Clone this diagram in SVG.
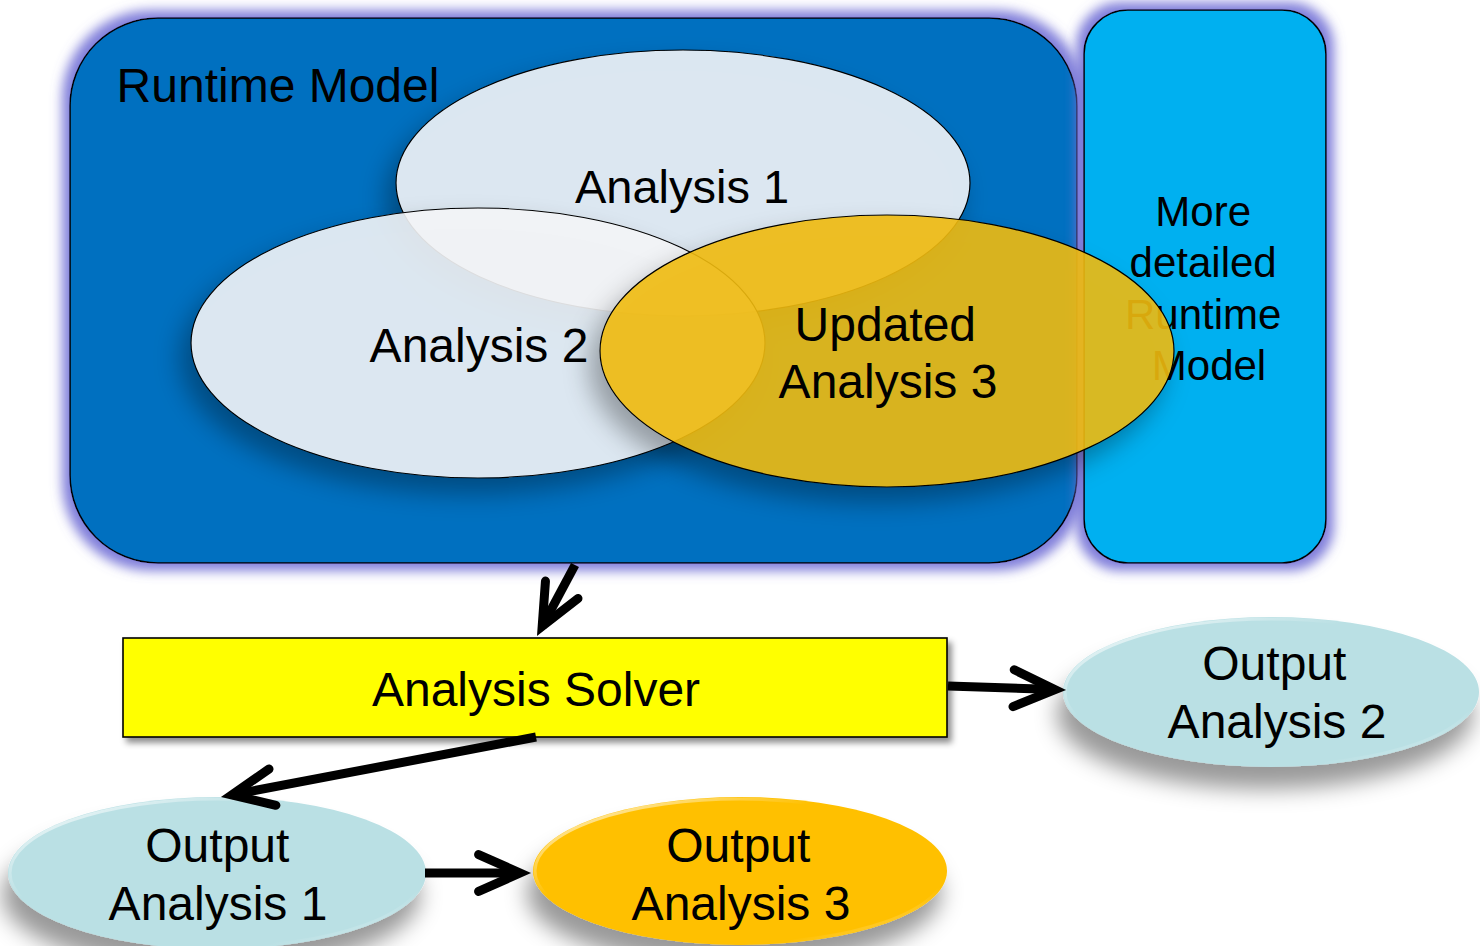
<svg xmlns="http://www.w3.org/2000/svg" width="1480" height="946" viewBox="0 0 1480 946">
  <defs>
    <style>
      text { font-family: "Liberation Sans", Arial, sans-serif; fill: #000; text-anchor: middle; }
      .panel { stroke: #000; stroke-width: 1.6; }
      .inner { stroke: #000; stroke-width: 1.2; }
      .conn { fill: none; stroke: #000; stroke-width: 9; stroke-linecap: butt; marker-end: url(#chev); }
    </style>
    <!-- soft purple halo round the model panels -->
    <filter id="glow" x="-10%" y="-10%" width="120%" height="120%">
      <feMorphology in="SourceAlpha" operator="dilate" radius="7" result="d"/>
      <feGaussianBlur in="d" stdDeviation="6" result="b"/>
      <feFlood flood-color="#7270D6" flood-opacity="0.9"/>
      <feComposite in2="b" operator="in" result="g"/>
      <feMerge><feMergeNode in="g"/><feMergeNode in="SourceGraphic"/></feMerge>
    </filter>
    <!-- shadow cast only outside the translucent ellipses -->
    <filter id="shadeIn" x="-20%" y="-20%" width="140%" height="150%">
      <feGaussianBlur in="SourceAlpha" stdDeviation="13" result="b"/>
      <feOffset in="b" dx="-10" dy="15" result="o"/>
      <feFlood flood-color="#000" flood-opacity="0.36"/>
      <feComposite in2="o" operator="in" result="s"/>
      <feComposite in="s" in2="SourceAlpha" operator="out" result="so"/>
      <feMerge><feMergeNode in="so"/><feMergeNode in="SourceGraphic"/></feMerge>
    </filter>
    <filter id="boxShadow" x="-5%" y="-20%" width="110%" height="150%">
      <feGaussianBlur in="SourceAlpha" stdDeviation="3" result="b"/>
      <feOffset in="b" dx="4" dy="5" result="o"/>
      <feFlood flood-color="#000" flood-opacity="0.45"/>
      <feComposite in2="o" operator="in" result="s"/>
      <feMerge><feMergeNode in="s"/><feMergeNode in="SourceGraphic"/></feMerge>
    </filter>
    <filter id="outShadow" x="-20%" y="-30%" width="140%" height="190%">
      <feGaussianBlur in="SourceAlpha" stdDeviation="11" result="b"/>
      <feOffset in="b" dx="-6" dy="22" result="o"/>
      <feFlood flood-color="#000" flood-opacity="0.4"/>
      <feComposite in2="o" operator="in" result="s"/>
      <feMerge><feMergeNode in="s"/><feMergeNode in="SourceGraphic"/></feMerge>
    </filter>
    <linearGradient id="rim" x1="0" y1="0" x2="1" y2="1">
      <stop offset="0" stop-color="#fff" stop-opacity="0.9"/>
      <stop offset="0.35" stop-color="#fff" stop-opacity="0"/>
      <stop offset="0.8" stop-color="#fff" stop-opacity="0"/>
      <stop offset="1" stop-color="#fff" stop-opacity="0.5"/>
    </linearGradient>
    <marker id="chev" markerUnits="strokeWidth" markerWidth="8" markerHeight="8" orient="auto" refX="0" refY="0" overflow="visible">
      <path d="M-4.6,-2.05 L0,0 L-4.6,2.05" fill="none" stroke="#000" stroke-width="1" stroke-linecap="round" stroke-linejoin="miter"/>
    </marker>
  </defs>

  <rect width="1480" height="946" fill="#fff"/>

  <!-- runtime model container -->
  <g id="runtime-model">
    <rect class="panel" x="70" y="18" width="1007" height="545" rx="88" ry="88" fill="#0070C0" filter="url(#glow)"/>
    <text x="278" y="102" font-size="48">Runtime Model</text>
  </g>

  <g id="detailed-model">
    <rect class="panel" x="1084" y="10" width="242" height="553" rx="44" ry="44" fill="#00B0F0" filter="url(#glow)"/>
    <text font-size="42">
      <tspan x="1209" y="226">More</tspan>
      <tspan x="1209" y="277">detailed</tspan>
      <tspan x="1209" y="329">Runtime</tspan>
      <tspan x="1209" y="380">Model</tspan>
    </text>
  </g>

  <g id="analysis-1">
    <ellipse class="inner" cx="683" cy="183" rx="287" ry="133" fill="#F3F4F6" fill-opacity="0.9" filter="url(#shadeIn)"/>
    <text x="682" y="203" font-size="47">Analysis 1</text>
  </g>

  <g id="analysis-2">
    <ellipse class="inner" cx="478" cy="343" rx="287" ry="135" fill="#F3F4F6" fill-opacity="0.9" filter="url(#shadeIn)"/>
    <text x="479" y="362" font-size="48">Analysis 2</text>
  </g>

  <g id="updated-analysis-3">
    <ellipse class="inner" cx="887" cy="351" rx="287" ry="136" fill="#F0BA09" fill-opacity="0.9" filter="url(#shadeIn)"/>
    <text font-size="48">
      <tspan x="892" y="341">Updated</tspan>
      <tspan x="888" y="398">Analysis 3</tspan>
    </text>
  </g>

  <g id="analysis-solver">
    <rect x="123" y="638" width="824" height="99" fill="#FFFF00" stroke="#000" stroke-width="1.6" filter="url(#boxShadow)"/>
    <text x="536" y="706" font-size="48">Analysis Solver</text>
  </g>

  <g id="output-analysis-2">
    <ellipse cx="1271" cy="692" rx="208" ry="75" fill="#BAE0E4" filter="url(#outShadow)"/>
    <ellipse cx="1271" cy="692" rx="206" ry="73" fill="none" stroke="url(#rim)" stroke-width="3"/>
    <text font-size="48">
      <tspan x="1281" y="680">Output</tspan>
      <tspan x="1277" y="738">Analysis 2</tspan>
    </text>
  </g>

  <g id="output-analysis-1">
    <ellipse cx="217" cy="873" rx="209" ry="76" fill="#BAE0E4" filter="url(#outShadow)"/>
    <ellipse cx="217" cy="873" rx="207" ry="74" fill="none" stroke="url(#rim)" stroke-width="3"/>
    <text font-size="48">
      <tspan x="224" y="862">Output</tspan>
      <tspan x="218" y="920">Analysis 1</tspan>
    </text>
  </g>

  <g id="output-analysis-3">
    <ellipse cx="740" cy="871" rx="207" ry="74" fill="#FFC000" filter="url(#outShadow)"/>
    <ellipse cx="740" cy="871" rx="205" ry="72" fill="none" stroke="url(#rim)" stroke-width="3"/>
    <text font-size="48">
      <tspan x="745" y="862">Output</tspan>
      <tspan x="741" y="920">Analysis 3</tspan>
    </text>
  </g>

  <!-- connectors -->
  <g id="connectors">
    <path class="conn" d="M575,565 L542.2,626.3"/>
    <path class="conn" d="M948,686 L1055,689.6"/>
    <path class="conn" d="M536,737 L231.8,794.9"/>
    <path class="conn" d="M425,873 L520,873"/>
  </g>
</svg>
